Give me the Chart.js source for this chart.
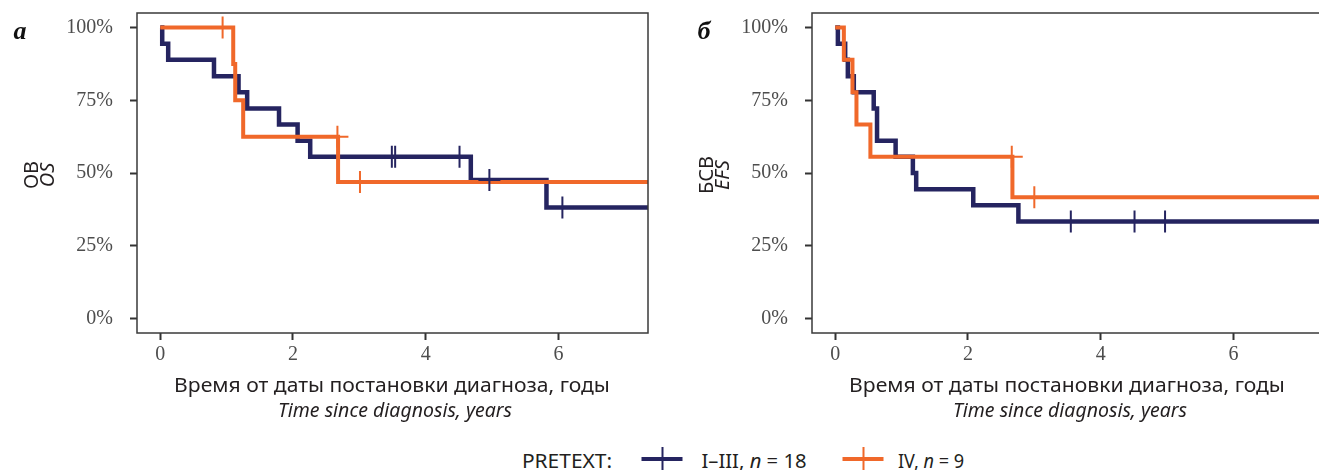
<!DOCTYPE html>
<html>
<head>
<meta charset="utf-8">
<script src="https://cdn.jsdelivr.net/npm/chart.js@4.4.0/dist/chart.umd.min.js"></script>
<style>
    body { margin: 0; width: 1319px; height: 470px; overflow: hidden; background: #fff; position: relative; }
    .panel { position: absolute; top: 0; width: 660px; height: 372px; }
    .txt { position: absolute; white-space: nowrap; color: #231f20; font-family: "Liberation Sans Narrow", "Noto Sans", sans-serif; font-size: 20px; line-height: 1; }
    .it { font-style: italic; }
    .letter { position: absolute; font-family: "Liberation Serif", serif; font-weight: bold; font-style: italic; font-size: 26px; line-height: 1; color: #111; transform: translate(-50%, -50%); }
    .sym { position: absolute; width: 41px; height: 24px; transform: translate(-50%, -50%); }
    .sym::before { content: ""; position: absolute; left: 0; right: 0; top: 10px; height: 4px; background: var(--c); }
    .sym::after { content: ""; position: absolute; left: 19.5px; width: 2px; top: 0; bottom: 0; background: var(--c); }
</style>
</head>
<body>
<canvas id="osChart" class="panel" style="left:0"></canvas>
<canvas id="efsChart" class="panel" style="left:675px"></canvas>

<div class="letter" style="left:20px; top:31px">а</div>
<div class="letter" style="left:704px; top:31px">б</div>

<div class="txt rot" style="left:31px; top:175px">ОВ</div>
<div class="txt rot it" style="left:47px; top:175px">OS</div>
<div class="txt rot" style="left:706px; top:175px">БСВ</div>
<div class="txt rot it" style="left:722px; top:175px">EFS</div>

<div class="txt fit" data-w="436" style="left:392px; top:385px">Время от даты постановки диагноза, годы</div>
<div class="txt fit it" data-w="234" style="left:395px; top:410px">Time since diagnosis, years</div>
<div class="txt fit" data-w="436" style="left:1067px; top:385px">Время от даты постановки диагноза, годы</div>
<div class="txt fit it" data-w="234" style="left:1070px; top:410px">Time since diagnosis, years</div>

<div class="txt fit" data-w="90" style="left:567px; top:461px">PRETEXT:</div>
<div class="sym" style="left:662px; top:459px; --c:#252460"></div>
<div class="txt fit" data-w="105" style="left:754px; top:461px">I–III, <i>n</i> = 18</div>
<div class="sym" style="left:863px; top:459px; --c:#f0682a"></div>
<div class="txt fit" data-w="66" style="left:931px; top:461px">IV, <i>n</i> = 9</div>

<script>
// Overall survival (OS), %
const osTimesA = [0, 0.03, 0.12, 0.81, 1.18, 1.31, 1.79, 2.07, 2.26, 4.68, 5.82];
const osSurvA  = [100, 94.4, 88.9, 83.3, 77.8, 72.2, 66.7, 61.1, 55.6, 47.6, 38.1];
const osCensA  = [3.49, 3.54, 4.51, 4.96, 6.06];
const osTimesB = [0, 1.10, 1.13, 1.25, 2.68];
const osSurvB  = [100, 87.5, 75.0, 62.5, 46.9];
const osCensB  = [0.94, 2.67, 3.01];

// Event-free survival (EFS), %
const efsTimesA = [0, 0.04, 0.15, 0.19, 0.28, 0.58, 0.63, 0.91, 1.17, 1.22, 2.08, 2.76];
const efsSurvA  = [100, 94.4, 88.9, 83.3, 77.8, 72.2, 61.1, 55.6, 50.0, 44.4, 38.9, 33.3];
const efsCensA  = [3.55, 4.51, 4.97];
const efsTimesB = [0, 0.13, 0.26, 0.32, 0.53, 2.67];
const efsSurvB  = [100, 88.9, 77.8, 66.7, 55.6, 41.7];
const efsCensB  = [2.66, 3.00];

const xTicks = [0, 2, 4, 6];
const yTicks = [0, 25, 50, 75, 100];
const X_MIN = -0.35, X_MAX = 7.35;

const BLUE = '#252460';
const ORANGE = '#f0682a';

function stepPoints(times, surv) {
    const pts = times.map((t, i) => ({ x: t, y: surv[i] }));
    pts.push({ x: X_MAX, y: surv[surv.length - 1] });
    return pts;
}

function survAt(times, surv, t) {
    let s = surv[0];
    for (let i = 0; i < times.length; i++) if (times[i] <= t) s = surv[i];
    return s;
}

function censPoints(cens, times, surv) {
    return cens.map(t => ({ x: t, y: survAt(times, surv, t) }));
}

// box round the plot area
const frame = {
    id: 'frame',
    afterDatasetsDraw(chart) {
        const a = chart.chartArea, ctx = chart.ctx;
        ctx.save();
        ctx.strokeStyle = '#3a3a3a';
        ctx.lineWidth = 1.5;
        ctx.strokeRect(a.left, a.top, a.right - a.left, a.bottom - a.top);
        ctx.restore();
    }
};

function makeChart(id, tA, sA, cA, tB, sB, cB) {
    return new Chart(document.getElementById(id), {
        type: 'scatter',
        data: {
            datasets: [
                { data: stepPoints(tA, sA), showLine: true, stepped: 'before', borderColor: BLUE, borderWidth: 4.5, pointRadius: 0, order: 3 },
                { data: stepPoints(tB, sB), showLine: true, stepped: 'before', borderColor: ORANGE, borderWidth: 4, pointRadius: 0, order: 2 },
                { data: censPoints(cA, tA, sA), pointStyle: 'cross', pointRadius: 11, borderColor: BLUE, borderWidth: 2, order: 1 },
                { data: censPoints(cB, tB, sB), pointStyle: 'cross', pointRadius: 11, borderColor: ORANGE, borderWidth: 2, order: 0 }
            ]
        },
        options: {
            responsive: false,
            animation: false,
            layout: { autoPadding: false, padding: { top: 13, right: 12, left: 0, bottom: 0 } },
            plugins: { legend: { display: false }, tooltip: { enabled: false } },
            scales: {
                x: {
                    type: 'linear', min: X_MIN, max: X_MAX,
                    afterBuildTicks: s => { s.ticks = xTicks.map(v => ({ value: v })); },
                    afterFit: s => { s.height = 39; s.paddingLeft = 0; s.paddingRight = 0; },
                    grid: { drawOnChartArea: false, drawTicks: true, tickLength: 7, tickWidth: 2, tickColor: '#333' },
                    border: { display: false },
                    ticks: { padding: 3, color: '#4d4d4d', font: { family: 'Liberation Serif', size: 20 } }
                },
                y: {
                    type: 'linear', min: -5, max: 105,
                    afterBuildTicks: s => { s.ticks = yTicks.map(v => ({ value: v })); },
                    afterFit: s => { s.width = 137; s.paddingTop = 0; s.paddingBottom = 0; },
                    grid: { drawOnChartArea: false, drawTicks: true, tickLength: 7, tickWidth: 2, tickColor: '#333' },
                    border: { display: false },
                    ticks: { padding: 17, color: '#4d4d4d', font: { family: 'Liberation Serif', size: 20 }, callback: v => v + '%' }
                }
            }
        },
        plugins: [frame]
    });
}

document.querySelectorAll('.panel').forEach(c => { c.width = 660; c.height = 372; });

makeChart('osChart', osTimesA, osSurvA, osCensA, osTimesB, osSurvB, osCensB);
makeChart('efsChart', efsTimesA, efsSurvA, efsCensA, efsTimesB, efsSurvB, efsCensB);

// squeeze the sans texts to the condensed widths of the original
document.querySelectorAll('.fit').forEach(el => {
    const k = Number(el.dataset.w) / el.offsetWidth;
    el.style.transform = `translate(-50%, -50%) scaleX(${k})`;
});
document.querySelectorAll('.rot').forEach(el => {
    el.style.transform = 'translate(-50%, -50%) rotate(-90deg)';
});
</script>
</body>
</html>
